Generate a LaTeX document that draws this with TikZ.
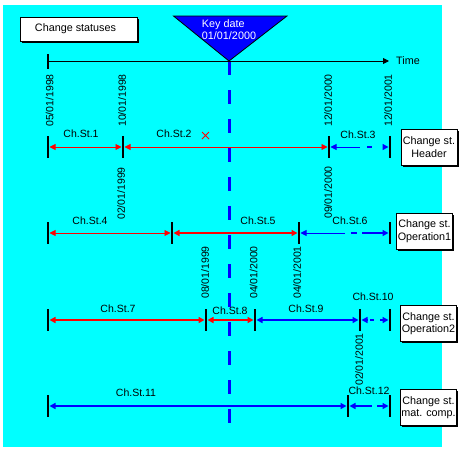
\documentclass[tikz,border=0pt]{standalone}
\usepackage{fontspec}
\setmainfont{Liberation Sans}
\usetikzlibrary{arrows.meta,shadows,calc}
\definecolor{bgcyan}{RGB}{0,255,255}
\definecolor{kblue}{RGB}{0,0,255}
\definecolor{kred}{RGB}{255,0,0}
\begin{document}
\begin{tikzpicture}[x=1pt,y=-1pt,
  lbl/.style={font=\fontsize{10.5}{12}\selectfont, inner sep=0pt},
  datelbl/.style={font=\fontsize{10.5}{12}\selectfont, rotate=90, inner sep=0pt},
  tickthin/.style={line width=1.8pt},
  tickthick/.style={line width=2.8pt},
  tip/.tip={Triangle[length=6pt,width=6pt]},
  both/.style={tip-tip, shorten <=1.5pt, shorten >=1.5pt},
  lefttip/.style={tip-, shorten <=1.5pt},
  righttip/.style={-tip, shorten >=1.5pt},
  thinred/.style={draw=kred, line width=0.9pt},
  thickred/.style={draw=kred, line width=2.6pt},
  thinblue/.style={draw=kblue, line width=0.9pt},
  thickblue/.style={draw=kblue, line width=2.6pt},
  midblue/.style={draw=kblue, line width=1.8pt},
  sbox/.style={draw=black, fill=white, line width=0.8pt, inner sep=1pt, align=center,
     font=\fontsize{10.8}{12.5}\selectfont,
     drop shadow={shadow xshift=1.6pt, shadow yshift=-1.6pt, fill=black, opacity=1}},
]
\useasboundingbox (0,0) rectangle (469,458);
\fill[bgcyan] (3,5) rectangle (442,447);

% title box
\node[sbox, minimum width=117pt, minimum height=24pt] (title) at (78.5,29) {\hspace*{-6pt}Change statuses};

% key date dashed line
\coordinate (kdtop) at (229,61);
\coordinate (kdbot) at (229,430);
\draw[kblue, line width=3pt, dash pattern=on 14pt off 15pt] (kdtop) -- (kdbot);

% key date triangle
\coordinate (trl) at (173.5,16);
\coordinate (trr) at (287,16);
\filldraw[fill=kblue, draw=black, line width=0.8pt] (trl) -- (trr) -- (kdtop) -- cycle;
\node[lbl, text=white, align=left, font=\fontsize{10.8}{12}\selectfont] (kdtext) at (229,30) {Key date\\01/01/2000};

% time axis
\coordinate (ax0) at (48,61);
\coordinate (ax1) at (389,61);
\draw[line width=1.6pt] (48,54) -- (48,69);
\draw[line width=0.9pt, -{Triangle[length=6pt,width=6pt]}] (ax0) -- (ax1);
\node[lbl, anchor=west, font=\fontsize{10.8}{12}\selectfont] (time) at (396,61) {Time};

% ---------- row 1 (Header), y=147
\coordinate (r1a) at (48,147);
\coordinate (r1b) at (123,147);
\coordinate (r1c) at (329,147);
\coordinate (r1d) at (390,147);
\coordinate (r1m) at (360,147);
\draw[tickthin] ($(r1a)+(0,-11)$) -- ($(r1a)+(0,11)$);
\draw[tickthick] ($(r1b)+(0,-11)$) -- ($(r1b)+(0,11)$);
\draw[tickthick] ($(r1c)+(0,-11)$) -- ($(r1c)+(0,11)$);
\draw[tickthin] ($(r1d)+(0,-11)$) -- ($(r1d)+(0,11)$);
\draw[thinred, both] (r1a) -- (r1b);
\draw[thinred, both] (r1b) -- (r1c);
\draw[thinblue, lefttip] (r1c) -- (r1m);
\draw[draw=kblue, line width=1.5pt, righttip, dash pattern=on 0pt off 7pt on 5pt off 30pt] (r1m) -- (r1d);
\node[lbl] (cs1) at (81,134) {Ch.St.1};
\node[lbl] (cs2) at (174,134) {Ch.St.2};
\node[lbl] (cs3) at (358,135) {Ch.St.3};
\draw[kred, line width=1pt] (202,132) -- (209,139) (202,139) -- (209,132);
\node[datelbl, anchor=west] (d1) at (49.5,127) {05/01/1998};
\node[datelbl, anchor=west] (d2) at (122,127) {10/01/1998};
\node[datelbl, anchor=west] (d3) at (328,127) {12/01/2000};
\node[datelbl, anchor=west] (d4) at (388,127) {12/01/2001};
\node[datelbl, anchor=east] (d5) at (121,167) {02/01/1999};
\node[datelbl, anchor=east] (d6) at (328,166) {09/01/2000};
\node[sbox, minimum width=56pt, minimum height=36pt] (bh) at (429,147) {Change st.\\Header};

% ---------- row 2 (Operation1), y=233
\coordinate (r2a) at (48,233);
\coordinate (r2b) at (172,233);
\coordinate (r2c) at (299,233);
\coordinate (r2d) at (390,233);
\coordinate (r2m) at (345,233);
\draw[tickthin] ($(r2a)+(0,-11)$) -- ($(r2a)+(0,11)$);
\draw[tickthin] ($(r2b)+(0,-11)$) -- ($(r2b)+(0,11)$);
\draw[tickthick] ($(r2c)+(0,-11)$) -- ($(r2c)+(0,11)$);
\draw[tickthin] ($(r2d)+(0,-11)$) -- ($(r2d)+(0,11)$);
\draw[thinred, both] (r2a) -- (r2b);
\draw[thickred, both] (r2b) -- (r2c);
\draw[thinblue, lefttip] (r2c) -- (r2m);
\draw[draw=kblue, line width=2.2pt, righttip, dash pattern=on 0pt off 6pt on 6pt off 5pt on 40pt] (r2m) -- (r2d);
\node[lbl] (cs4) at (90,221) {Ch.St.4};
\node[lbl] (cs5) at (258,221) {Ch.St.5};
\node[lbl] (cs6) at (350,221) {Ch.St.6};
\node[datelbl, anchor=east] (d7) at (205,246) {08/01/1999};
\node[datelbl, anchor=east] (d8) at (253.5,246) {04/01/2000};
\node[datelbl, anchor=east] (d9) at (297,246) {04/01/2001};
\node[sbox, minimum width=56pt, minimum height=36pt] (bo1) at (424.5,231) {Change st.\\Operation1};

% ---------- row 3 (Operation2), y=320
\coordinate (r3a) at (48,320);
\coordinate (r3b) at (206,320);
\coordinate (r3c) at (255,320);
\coordinate (r3d) at (360,320);
\coordinate (r3e) at (390,320);
\coordinate (r3m) at (368,320);
\draw[tickthin] ($(r3a)+(0,-11)$) -- ($(r3a)+(0,11)$);
\draw[tickthin] ($(r3b)+(0,-11)$) -- ($(r3b)+(0,11)$);
\draw[tickthin] ($(r3c)+(0,-11)$) -- ($(r3c)+(0,11)$);
\draw[tickthin] ($(r3d)+(0,-11)$) -- ($(r3d)+(0,11)$);
\draw[tickthick] ($(r3e)+(0,-11)$) -- ($(r3e)+(0,11)$);
\draw[thickred, both] (r3a) -- (r3b);
\draw[thickred, both] (r3b) -- (r3c);
\draw[thickblue, both] (r3c) -- (r3d);
\draw[midblue, lefttip] (r3d) -- (r3m);
\draw[midblue, righttip, dash pattern=on 0pt off 2pt on 4pt off 6pt on 30pt] (r3m) -- (r3e);
\node[lbl] (cs7) at (118,309) {Ch.St.7};
\node[lbl] (cs8) at (230,311) {Ch.St.8};
\node[lbl] (cs9) at (306,309) {Ch.St.9};
\node[lbl] (cs10) at (373,297) {Ch.St.10};
\node[datelbl, anchor=east] (d10) at (359,333) {02/01/2001};
\node[sbox, minimum width=56pt, minimum height=36pt] (bo2) at (428.5,323.5) {Change st.\\Operation2};

% ---------- row 4 (mat. comp.), y=406
\coordinate (r4a) at (48,406);
\coordinate (r4b) at (348,406);
\coordinate (r4c) at (390,406);
\coordinate (r4m) at (372,406);
\draw[tickthin] ($(r4a)+(0,-11)$) -- ($(r4a)+(0,11)$);
\draw[tickthick] ($(r4b)+(0,-11)$) -- ($(r4b)+(0,11)$);
\draw[tickthin] ($(r4c)+(0,-11)$) -- ($(r4c)+(0,11)$);
\draw[thickblue, both] (r4a) -- (r4b);
\draw[midblue, lefttip] (r4b) -- (r4m);
\draw[midblue, righttip, dash pattern=on 0pt off 5pt on 30pt] (r4m) -- (r4c);
\node[lbl] (cs11) at (136,393) {Ch.St.11};
\node[lbl] (cs12) at (369,391) {Ch.St.12};
\node[sbox, minimum width=56pt, minimum height=36pt] (bm) at (428.5,407.5) {Change st.\\mat. comp.};
\end{tikzpicture}
\end{document}
